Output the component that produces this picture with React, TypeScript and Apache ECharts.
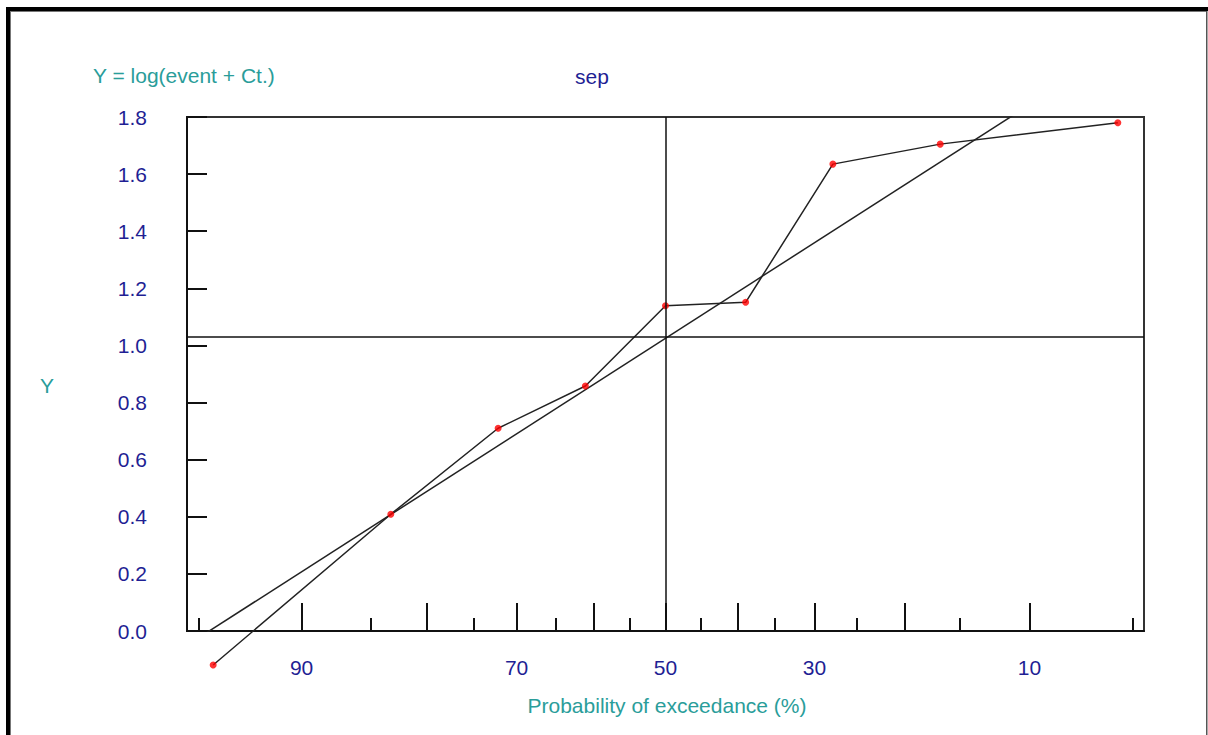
import React, { useEffect, useRef } from "react";
import * as echarts from "echarts";

// ---- data ----
const exceedancePct = [94.44, 83.33, 72.22, 61.11, 50.0, 38.89, 27.78, 16.67, 5.56];
const yValues = [-0.119, 0.409, 0.71, 0.858, 1.139, 1.151, 1.635, 1.705, 1.78];
const fitExceedance = [95.4, 4.6];
const fitY = [-0.05, 2.1];
const meanY = 1.027;
const medianExceedance = 50;
const axisRangePct = [95.4, 4.6];
const majorTickPct = [90, 80, 70, 60, 50, 40, 30, 20, 10];
const minorTickPct = [95, 85, 75, 65, 55, 45, 35, 25, 15, 5];
const labelPct = [90, 70, 50, 30, 10];
const yMin = 0;
const yMax = 1.8;
const yStep = 0.2;

// inverse standard normal CDF (Acklam)
function probit(p: number): number {
  const a = [-39.69683028665376, 220.9460984245205, -275.9285104469687, 138.357751867269, -30.66479806614716, 2.506628277459239];
  const b = [-54.47609879822406, 161.5858368580409, -155.6989798598866, 66.80131188771972, -13.28068155288572];
  const c = [-0.007784894002430293, -0.3223964580411365, -2.400758277161838, -2.549732539343734, 4.374664141464968, 2.938163982698783];
  const d = [0.007784695709041462, 0.3224671290700398, 2.445134137142996, 3.754408661907416];
  const pl = 0.02425;
  let q: number, r: number;
  if (p < pl) {
    q = Math.sqrt(-2 * Math.log(p));
    return (((((c[0] * q + c[1]) * q + c[2]) * q + c[3]) * q + c[4]) * q + c[5]) / ((((d[0] * q + d[1]) * q + d[2]) * q + d[3]) * q + 1);
  }
  if (p <= 1 - pl) {
    q = p - 0.5;
    r = q * q;
    return ((((((a[0] * r + a[1]) * r + a[2]) * r + a[3]) * r + a[4]) * r + a[5]) * q) / (((((b[0] * r + b[1]) * r + b[2]) * r + b[3]) * r + b[4]) * r + 1);
  }
  q = Math.sqrt(-2 * Math.log(1 - p));
  return -(((((c[0] * q + c[1]) * q + c[2]) * q + c[3]) * q + c[4]) * q + c[5]) / ((((d[0] * q + d[1]) * q + d[2]) * q + d[3]) * q + 1);
}
// probability-of-exceedance scale: position = -probit(p)
const toX = (pct: number) => -probit(pct / 100);

const NAVY = "#1f1f94";
const TEAL = "#2a9d9a";
const FONT = "'Liberation Sans', Arial, sans-serif";

export default function App() {
  const ref = useRef<HTMLDivElement>(null);
  useEffect(() => {
    if (!ref.current) return;
    const chart = echarts.init(ref.current, undefined, { renderer: "svg" });
    const labelZ = labelPct.map(toX);
    const xMin = toX(axisRangePct[0]);
    const xMax = toX(axisRangePct[1]);
    const dataPts = exceedancePct.map((p, i) => [toX(p), yValues[i]]);
    const fitPts = fitExceedance.map((p, i) => [toX(p), fitY[i]]);

    const option: any = {
      animation: false,
      backgroundColor: "#ffffff",
      grid: {
        left: 187,
        top: 117,
        right: 64,
        bottom: 104,
        show: true,
        borderColor: "#333",
        borderWidth: 2,
        backgroundColor: "transparent",
      },
      xAxis: [
        {
          type: "value",
          min: xMin,
          max: xMax,
          position: "bottom",
          axisLine: { show: true, onZero: false, lineStyle: { color: "#111", width: 2 } },
          axisTick: {
            show: true,
            inside: true,
            length: 28,
            customValues: majorTickPct.map(toX),
            lineStyle: { color: "#111", width: 2 },
          },
          axisLabel: {
            show: true,
            customValues: labelZ,
            margin: 26,
            color: NAVY,
            fontFamily: FONT,
            fontSize: 21,
            formatter: (v: number) => {
              let best = 0;
              let bd = Infinity;
              labelZ.forEach((z, i) => {
                const dd = Math.abs(z - v);
                if (dd < bd) {
                  bd = dd;
                  best = i;
                }
              });
              return String(labelPct[best]);
            },
          },
          splitLine: { show: false },
        },
        {
          type: "value",
          min: xMin,
          max: xMax,
          position: "bottom",
          offset: 0,
          axisLine: { show: false, onZero: false },
          axisTick: {
            show: true,
            inside: true,
            length: 13,
            customValues: minorTickPct.map(toX),
            lineStyle: { color: "#111", width: 2 },
          },
          axisLabel: { show: false },
          splitLine: { show: false },
        },
      ],
      yAxis: {
        type: "value",
        min: yMin,
        max: yMax,
        interval: yStep,
        axisLine: { show: true, onZero: false, lineStyle: { color: "#111", width: 2 } },
        axisTick: { show: true, inside: true, length: 20, lineStyle: { color: "#111", width: 2 } },
        axisLabel: {
          margin: 40,
          color: NAVY,
          fontFamily: FONT,
          fontSize: 21,
          formatter: (v: number) => v.toFixed(1),
        },
        splitLine: { show: false },
      },
      series: [
        {
          type: "line",
          name: "fit",
          data: fitPts,
          symbol: "none",
          clip: true,
          lineStyle: { color: "#222", width: 1.5 },
          z: 2,
          markLine: {
            silent: true,
            symbol: "none",
            label: { show: false },
            lineStyle: { color: "#111", width: 1.5, type: "solid" },
            data: [{ xAxis: toX(medianExceedance) }, { yAxis: meanY }],
          },
        },
        {
          type: "line",
          name: "data",
          data: dataPts,
          symbol: "none",
          clip: false,
          lineStyle: { color: "#222", width: 1.5 },
          z: 3,
        },
        {
          type: "scatter",
          name: "points",
          data: dataPts,
          symbol: "circle",
          symbolSize: 7,
          clip: false,
          itemStyle: { color: "#ff0000" },
          z: 4,
        },
      ],
      graphic: [
        { type: "rect", shape: { x: 6, y: 7, width: 1202, height: 4 }, style: { fill: "#000" }, silent: true },
        { type: "rect", shape: { x: 6, y: 7, width: 4, height: 728 }, style: { fill: "#000" }, silent: true },
        { type: "rect", shape: { x: 10, y: 11, width: 1196, height: 1 }, style: { fill: "#777" }, silent: true },
        { type: "rect", shape: { x: 10, y: 11, width: 1, height: 724 }, style: { fill: "#777" }, silent: true },
        { type: "rect", shape: { x: 1206, y: 11, width: 1.5, height: 724 }, style: { fill: "#555" }, silent: true },
        {
          type: "text",
          x: 93,
          y: 75,
          style: { text: "Y = log(event + Ct.)", fill: TEAL, font: `21px ${FONT}`, textAlign: "left", textVerticalAlign: "middle", align: "left", verticalAlign: "middle" },
          silent: true,
        },
        {
          type: "text",
          x: 592,
          y: 76,
          style: { text: "sep", fill: NAVY, font: `21px ${FONT}`, textAlign: "center", textVerticalAlign: "middle", align: "center", verticalAlign: "middle" },
          silent: true,
        },
        {
          type: "text",
          x: 47,
          y: 385,
          style: { text: "Y", fill: TEAL, font: `21px ${FONT}`, textAlign: "center", textVerticalAlign: "middle", align: "center", verticalAlign: "middle" },
          silent: true,
        },
        {
          type: "text",
          x: 667,
          y: 705,
          style: { text: "Probability of exceedance (%)", fill: TEAL, font: `21px ${FONT}`, textAlign: "center", textVerticalAlign: "middle", align: "center", verticalAlign: "middle" },
          silent: true,
        },
      ],
    };
    chart.setOption(option);
    return () => chart.dispose();
  }, []);
  return (
    <div
      ref={ref}
      style={{ position: "fixed", left: 0, top: 0, width: 1208, height: 735, background: "#fff" }}
    />
  );
}
